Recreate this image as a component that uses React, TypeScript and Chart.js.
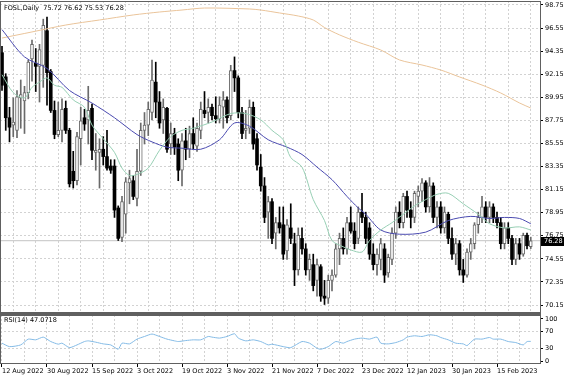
import React, { useEffect, useRef } from 'react';
import { Chart, registerables } from 'chart.js';
Chart.register(...registerables);

// ---- data ----
const openP = [94.2,91.9,88.0,87.3,86.8,89.9,89.6,90.4,93.6,93.2,92.9,93.0,96.3,92.4,88.7,86.4,86.8,88.9,86.8,82.9,82.0,86.0,88.0,87.8,88.9,84.7,84.7,85.0,84.3,83.4,83.4,79.4,76.6,78.8,81.8,82.0,80.3,
82.9,86.8,87.3,88.5,91.4,89.5,87.8,88.9,85.5,86.5,85.5,83.0,85.8,85.0,86.5,85.3,86.8,88.7,88.5,89.0,88.2,87.9,89.0,89.7,88.2,92.5,91.8,88.5,86.8,87.0,89.0,86.0,83.3,81.5,79.0,80.0,77.0,78.0,77.8,75.3,77.5,76.0,73.5,76.5,75.5,73.5,74.0,72.5,73.8,71.0,70.8,72.5,73.0,75.5,76.5,75.5,78.0,77.2,76.5,79.0,78.5,77.5,75.0,74.0,74.5,75.5,73.2,74.5,77.0,79.0,78.0,80.5,79.2,78.5,80.5,81.0,81.8,79.5,81.5,78.5,79.5,77.5,78.8,76.5,75.0,76.0,73.5,73.0,75.2,76.0,77.8,78.5,79.5,78.5,79.5,78.5,78.0,76.0,77.5,76.5,74.5,76.0,75.0,76.8,75.72];
const highP = [94.8,92.2,89.0,89.9,90.6,91.6,91.0,93.5,95.4,94.6,95.0,97.4,97.6,92.6,89.6,89.5,89.8,89.6,87.0,84.8,86.6,89.0,88.8,91.0,89.3,86.5,86.0,86.2,86.8,84.0,84.0,79.6,80.5,82.3,83.0,82.5,85.0,
87.5,88.5,89.5,93.5,93.3,90.5,89.8,89.0,87.5,87.0,86.0,86.5,87.0,87.2,88.0,87.5,89.5,90.5,89.8,89.3,90.0,90.0,90.5,90.0,93.0,93.8,92.0,89.0,88.7,89.7,89.5,86.5,84.5,82.3,80.5,80.3,78.5,79.5,79.5,78.3,79.8,77.0,77.5,77.5,76.0,75.0,75.0,74.5,74.0,72.5,73.0,73.5,76.0,77.0,77.5,78.5,79.5,78.0,79.5,80.8,79.0,78.0,76.0,75.5,76.5,76.0,75.0,77.5,79.5,80.0,80.8,81.0,80.0,81.0,81.5,82.2,82.0,82.3,81.8,80.0,80.0,79.5,79.0,77.5,76.5,76.3,74.5,75.5,76.5,78.0,79.0,80.5,80.0,80.0,79.8,79.0,78.5,78.0,78.0,76.8,76.5,76.5,77.0,77.0,76.62];
const lowP = [90.6,86.8,85.7,86.2,86.1,87.0,86.5,89.8,91.5,90.5,89.5,90.9,89.2,88.5,86.0,86.2,85.7,86.5,81.4,81.3,81.6,83.5,86.8,85.5,84.0,83.0,81.3,83.5,83.0,82.7,78.5,76.3,76.2,77.0,79.8,80.2,79.6,
82.5,85.5,86.3,87.8,88.0,87.0,86.5,84.7,84.5,84.5,82.0,81.5,84.0,84.2,85.0,84.8,86.0,88.0,87.5,87.8,87.5,87.5,87.0,87.5,87.8,90.5,88.0,86.0,86.0,86.5,85.0,83.0,81.0,78.0,76.5,76.0,75.5,77.0,74.5,74.5,76.0,72.0,73.0,75.0,73.0,72.5,71.5,71.0,70.5,70.2,70.3,71.5,72.8,74.0,75.0,75.0,77.0,75.5,76.0,78.0,76.0,74.5,73.5,73.0,73.5,72.3,72.8,74.0,76.5,77.5,77.5,78.5,77.5,78.0,79.5,80.0,79.0,79.0,78.0,77.5,77.0,77.0,76.0,74.5,74.0,73.0,72.3,72.8,74.5,75.5,77.0,78.0,78.0,78.0,78.0,77.5,75.5,75.5,76.0,74.0,74.0,74.5,74.8,75.5,75.53];
const closeP = [91.1,88.0,87.1,87.6,90.0,90.2,90.4,93.3,95.0,92.9,94.5,96.8,92.3,88.7,86.4,86.8,88.8,86.8,81.7,82.0,86.2,87.7,87.4,88.7,84.9,84.9,85.0,84.3,83.2,83.0,79.2,76.5,80.0,81.9,82.2,80.5,82.9,
86.8,87.3,88.8,91.6,89.5,87.5,89.0,85.0,86.5,85.2,83.0,85.8,85.0,86.5,85.5,87.0,88.8,88.4,89.0,88.2,87.9,89.2,89.7,88.0,92.5,91.8,88.5,86.5,87.0,89.0,85.5,83.5,81.5,78.5,80.0,76.5,78.0,77.5,75.0,77.8,76.5,73.5,76.8,75.5,73.5,74.5,72.0,74.0,71.0,70.8,72.5,73.0,75.5,76.5,75.5,78.0,77.2,76.0,79.0,78.5,76.5,75.0,74.0,75.0,76.0,73.0,74.7,77.0,79.0,78.0,80.5,79.2,78.5,80.8,81.0,81.8,79.5,81.5,78.5,79.5,77.5,79.0,76.5,75.0,76.0,73.5,73.0,75.2,76.0,77.8,78.5,79.5,78.5,79.5,78.5,78.0,76.0,77.5,76.5,74.5,76.0,75.0,76.8,75.8,76.28];

const ma200Bars = [0,8,17,26,35,42,48,54,66,69,74,79,83,86,90,95,101,106,112,117,122,128,133,138,141];
const ma200 = [95.6,96.18,96.84,97.32,97.8,98.08,98.27,98.46,98.37,98.27,97.99,97.7,97.32,96.6,95.9,95.2,94.46,93.51,93.03,92.55,91.89,91.12,90.36,89.41,88.93];

const maBlueBars = [0,6,12,18,24,30,36,40,44,48,53,58,62,66,71,76,80,84,88,92,95,97,101,106,113,119,125,130,134,138,141];
const maBlue = [96.4,93.8,92.7,90.6,89.4,88.0,86.4,85.7,85.2,85.1,85.0,85.9,87.5,87.2,85.9,85.2,84.5,83.3,82.1,80.5,79.4,78.8,77.3,76.9,77.1,78.2,78.6,78.4,78.5,78.4,77.9];

const maGreenBars = [0,3,6,8,10,12,14,16,19,22,24,27,30,32,34,36,39,42,45,48,51,56,61,65,69,72,75,77,80,83,86,88,91,93,96,98,101,104,107,110,113,116,119,123,127,130,134,138,141];
const maGreen = [92.1,90.4,89.9,90.9,91.4,91.8,91.1,90.9,89.7,89.0,87.3,86.0,84.7,83.2,82.5,82.6,83.2,84.9,86.2,86.8,87.0,87.6,88.4,88.4,87.8,86.8,85.9,84.2,83.3,80.2,78.2,76.3,75.7,75.4,75.2,76.3,77.3,78.0,78.8,79.6,80.2,80.7,80.8,79.8,78.8,77.9,77.5,77.6,77.3];

const rsiBars = [0,2,5,7,9,11,13,15,16,18,20,22,23,25,27,29,31,32,34,36,38,40,42,44,46,47,49,51,53,55,56,58,60,62,63,65,67,69,71,72,75,77,80,82,84,85,87,89,91,92,94,96,98,100,101,103,105,107,108,110,112,114,116,117,119,121,123,124,126,128,130,131,133,135,137,139,140,141];
const rsiVals = [42.9,34.8,38.8,52.4,50.7,57.1,46.7,40.5,42.9,32.4,38.8,46.7,48.3,45.2,41.2,38.8,28.6,42.9,41.2,52.4,58.6,64.3,58.6,52.4,48.3,46.7,49.0,50.7,50.7,58.6,57.1,54.8,58.6,65.0,54.8,48.3,50.7,46.7,38.8,40.5,34.8,32.4,46.7,42.9,31.0,28.6,34.8,46.7,42.9,46.7,52.4,54.8,52.4,57.1,42.9,41.2,44.3,50.7,57.1,60.2,58.6,62.6,60.2,56.2,50.7,42.9,41.2,37.1,52.4,52.4,56.2,52.4,52.4,46.7,44.3,38.8,46.7,47.0718];

const dateLabels = ['12 Aug 2022','30 Aug 2022','15 Sep 2022','3 Oct 2022','19 Oct 2022','3 Nov 2022','21 Nov 2022','7 Dec 2022','23 Dec 2022','12 Jan 2023','30 Jan 2023','15 Feb 2023'];
const priceTicks = [98.75,96.55,94.35,92.15,89.95,87.75,85.55,83.35,81.15,78.95,76.75,74.55,72.35,70.15];
const rsiTicks = [100,70,30,0];
const symbolTitle = 'FOSL,Daily';
const rsiTitle = 'RSI(14)';

const FONT = { family: '"DejaVu Sans", sans-serif', size: 6.5 };
const GRID = '#d2d2d2';
const FRAME = '#606060';
const BULL_LINE = '#6a6a6a';
const X_MIN = -0.533;
const X_MAX = 143.73;
const gridTicks = () => { const t = []; for (let v = 0; v <= 138; v += 6) t.push({ value: v }); return t; };
const noPad = (s: any) => { s.paddingTop = 0; s.paddingBottom = 0; s.paddingLeft = 0; s.paddingRight = 0; };

const framePlugin = {
  id: 'frame',
  afterDraw(chart: any) {
    const { ctx, chartArea: a } = chart;
    ctx.save();
    ctx.strokeStyle = FRAME;
    ctx.lineWidth = 1;
    ctx.strokeRect(a.left + 0.5, a.top + 0.5, a.right - a.left - 1, a.bottom - a.top - 1);
    ctx.restore();
  },
};

function MainChart() {
  const ref = useRef<HTMLCanvasElement>(null);
  useEffect(() => {
    const n = closeP.length;
    const idx = Array.from({ length: n }, (_, i) => i);
    const last = closeP[n - 1];
    const bull = (i: number) => closeP[i] >= openP[i];
    const overlay = {
      id: 'overlay',
      afterDraw(chart: any) {
        const { ctx, chartArea: a, scales } = chart;
        ctx.save();
        ctx.font = '6.5px "DejaVu Sans", sans-serif';
        ctx.fillStyle = '#000';
        ctx.textBaseline = 'middle';
        ctx.fillText(`${symbolTitle}  ${openP[n - 1].toFixed(2)} ${highP[n - 1].toFixed(2)} ${lowP[n - 1].toFixed(2)} ${last.toFixed(2)}`, a.left + 4, a.top + 7);
        const y = scales.y.getPixelForValue(last);
        ctx.fillStyle = '#000';
        ctx.fillRect(a.right, Math.round(y) - 4, 23, 9);
        ctx.fillStyle = '#fff';
        ctx.fillText(last.toFixed(2), a.right + 3, Math.round(y) + 0.5);
        ctx.restore();
      },
    };
    const chart = new Chart(ref.current!, {
      type: 'bar',
      data: {
        datasets: [
          { type: 'line', data: [{ x: X_MIN, y: last }, { x: X_MAX, y: last }], borderColor: '#c4c4c4', borderWidth: 1, pointRadius: 0, order: 6 } as any,
          { type: 'bar', data: idx.map(i => ({ x: i, y: [lowP[i], highP[i]] })), backgroundColor: (c: any) => (bull(c.dataIndex) ? BULL_LINE : '#000000'), barThickness: 1, grouped: false, order: 5 } as any,
          { type: 'bar', data: idx.map(i => ({ x: i, y: [openP[i], closeP[i]] })), backgroundColor: (c: any) => (bull(c.dataIndex) ? '#ffffff' : '#000000'), borderColor: BULL_LINE, borderWidth: (c: any) => (bull(c.dataIndex) ? 1 : 0), borderSkipped: false, barThickness: 3, minBarLength: 1, grouped: false, order: 4 } as any,
          { type: 'line', data: ma200Bars.map((b, k) => ({ x: b, y: ma200[k] })), borderColor: '#eac49a', borderWidth: 1, pointRadius: 0, tension: 0.3, order: 3 } as any,
          { type: 'line', data: maBlueBars.map((b, k) => ({ x: b, y: maBlue[k] })), borderColor: '#4a4ab0', borderWidth: 1, pointRadius: 0, tension: 0.3, order: 2 } as any,
          { type: 'line', data: maGreenBars.map((b, k) => ({ x: b, y: maGreen[k] })), borderColor: '#97cfb4', borderWidth: 1, pointRadius: 0, tension: 0.3, order: 1 } as any,
        ],
      },
      options: {
        animation: false,
        responsive: false,
        maintainAspectRatio: false,
        layout: { padding: { left: 0, top: 1, right: 0, bottom: 0 } },
        plugins: { legend: { display: false }, tooltip: { enabled: false } },
        scales: {
          x: {
            type: 'linear', min: X_MIN, max: X_MAX, offset: false,
            afterBuildTicks: (s: any) => { s.ticks = gridTicks(); },
            afterFit: (s: any) => { s.height = 0; noPad(s); },
            ticks: { display: false },
            grid: { color: GRID, lineWidth: 1, drawTicks: false },
            border: { display: false, dash: [2, 2] },
          },
          y: {
            position: 'right', min: 69.39, max: 99.13,
            afterBuildTicks: (s: any) => { s.ticks = priceTicks.map(v => ({ value: v })); },
            afterFit: (s: any) => { s.width = 23; noPad(s); },
            ticks: { font: FONT, color: '#000', padding: 2, callback: (v: any) => Number(v).toFixed(2) },
            grid: { color: GRID, lineWidth: 1, tickLength: 2, tickColor: '#000', tickBorderDash: [] },
            border: { display: false, dash: [2, 2] },
          },
        },
      } as any,
      plugins: [framePlugin, overlay],
    });
    return () => chart.destroy();
  }, []);
  return <canvas ref={ref} width={564} height={313} style={{ position: 'absolute', left: 0, top: 0, width: 564, height: 313 }} />;
}

function RsiChart() {
  const ref = useRef<HTMLCanvasElement>(null);
  useEffect(() => {
    const lastRsi = rsiVals[rsiVals.length - 1];
    const overlay = {
      id: 'rsiTitle',
      afterDraw(chart: any) {
        const { ctx, chartArea: a } = chart;
        ctx.save();
        ctx.fillStyle = FRAME;
        ctx.fillRect(a.left, 0, a.right - a.left, a.top);
        ctx.font = '6.5px "DejaVu Sans", sans-serif';
        ctx.fillStyle = '#000';
        ctx.textBaseline = 'middle';
        ctx.fillText(`${rsiTitle} ${lastRsi.toFixed(4)}`, a.left + 4, a.top + 5);
        ctx.restore();
      },
    };
    const chart = new Chart(ref.current!, {
      type: 'line',
      data: {
        datasets: [
          { data: rsiBars.map((b, k) => ({ x: b, y: rsiVals[k] })), borderColor: '#84bbe6', borderWidth: 1, pointRadius: 0, tension: 0.2 },
        ],
      },
      options: {
        animation: false,
        responsive: false,
        maintainAspectRatio: false,
        layout: { padding: { left: 0, top: 2, right: 0, bottom: 0 } },
        plugins: { legend: { display: false }, tooltip: { enabled: false } },
        scales: {
          x: {
            type: 'linear', min: X_MIN, max: X_MAX, offset: false,
            afterBuildTicks: (s: any) => { s.ticks = gridTicks(); },
            afterFit: (s: any) => { s.height = 12; noPad(s); },
            ticks: {
              font: FONT, color: '#000', padding: 0, align: 'start', maxRotation: 0, autoSkip: false,
              callback: (v: any) => (v % 12 === 0 ? dateLabels[v / 12] : ''),
            },
            grid: { color: GRID, lineWidth: 1, tickLength: 3, tickColor: (c: any) => (c.tick && c.tick.value % 12 === 0 ? '#000' : 'rgba(0,0,0,0)'), tickBorderDash: [] },
            border: { display: false, dash: [2, 2] },
          },
          y: {
            position: 'right', min: -6, max: 109,
            afterBuildTicks: (s: any) => { s.ticks = rsiTicks.map(v => ({ value: v })); },
            afterFit: (s: any) => { s.width = 23; noPad(s); },
            ticks: { font: FONT, color: '#000', padding: 2 },
            grid: { color: (c: any) => (c.tick && (c.tick.value === 70 || c.tick.value === 30) ? GRID : 'rgba(0,0,0,0)'), lineWidth: 1, tickLength: 2, tickColor: '#000', tickBorderDash: [] },
            border: { display: false, dash: [2, 2] },
          },
        },
      } as any,
      plugins: [framePlugin, overlay],
    });
    return () => chart.destroy();
  }, []);
  return <canvas ref={ref} width={564} height={63} style={{ position: 'absolute', left: 0, top: 313, width: 564, height: 63 }} />;
}

export default function App() {
  return (
    <div style={{ position: 'fixed', left: 0, top: 0, width: 564, height: 376, background: '#fff', overflow: 'hidden' }}>
      <MainChart />
      <RsiChart />
    </div>
  );
}
